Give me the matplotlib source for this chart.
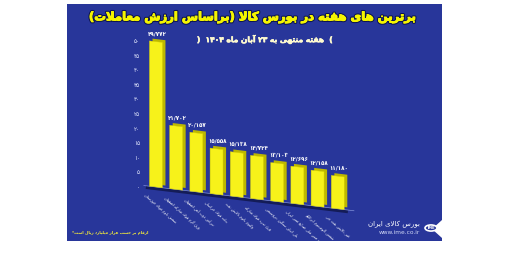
import matplotlib
matplotlib.use("Agg")
import matplotlib.pyplot as plt
import matplotlib.patheffects as pe
from matplotlib.transforms import Affine2D, ScaledTranslation
from matplotlib.patches import Rectangle, Circle, Polygon

# --- data (thousand billion rials) ---
categories = [
    "شمش بلوم فولاد خوزستان",
    "ورق گرم فولاد مبارکه اصفهان",
    "تیرآهن ذوب آهن اصفهان",
    "بیلت فولاد خراسان",
    "وکیوم باتوم پالایش نفت",
    "ورق سرد فولاد مبارکه",
    "پلی اتیلن سنگین پتروشیمی",
    "کاتد مس ملی صنایع مس ایران",
    "شمش آلومینیوم ایرالکو",
    "قیر پالایش نفت جی",
]
values = [49.772, 21.702, 20.157, 15.558, 15.138, 14.724, 13.103, 12.696, 12.158, 11.180]
yticks = [0, 5, 10, 15, 20, 25, 30, 35, 40, 45, 50]

title = "برترین های هفته در بورس کالا (براساس ارزش معاملات)"
subtitle = "هفته منتهی به ۲۳ آبان ماه ۱۴۰۴"
footnote = "ارقام بر حسب هزار میلیارد ریال است*"
brand = "بورس کالای ایران"

# --- minimal persian shaping (matplotlib has no RTL / joining) ---
FORMS = {
    "ا": (0xFE8D, 0xFE8E), "آ": (0xFE81, 0xFE82), "د": (0xFEA9, 0xFEAA),
    "ذ": (0xFEAB, 0xFEAC), "ر": (0xFEAD, 0xFEAE), "ز": (0xFEAF, 0xFEB0),
    "ژ": (0xFB8A, 0xFB8B), "و": (0xFEED, 0xFEEE),
    "ب": (0xFE8F, 0xFE90, 0xFE91, 0xFE92), "پ": (0xFB56, 0xFB57, 0xFB58, 0xFB59),
    "ت": (0xFE95, 0xFE96, 0xFE97, 0xFE98), "ث": (0xFE99, 0xFE9A, 0xFE9B, 0xFE9C),
    "ج": (0xFE9D, 0xFE9E, 0xFE9F, 0xFEA0), "چ": (0xFB7A, 0xFB7B, 0xFB7C, 0xFB7D),
    "ح": (0xFEA1, 0xFEA2, 0xFEA3, 0xFEA4), "خ": (0xFEA5, 0xFEA6, 0xFEA7, 0xFEA8),
    "س": (0xFEB1, 0xFEB2, 0xFEB3, 0xFEB4), "ش": (0xFEB5, 0xFEB6, 0xFEB7, 0xFEB8),
    "ص": (0xFEB9, 0xFEBA, 0xFEBB, 0xFEBC), "ض": (0xFEBD, 0xFEBE, 0xFEBF, 0xFEC0),
    "ط": (0xFEC1, 0xFEC2, 0xFEC3, 0xFEC4), "ظ": (0xFEC5, 0xFEC6, 0xFEC7, 0xFEC8),
    "ع": (0xFEC9, 0xFECA, 0xFECB, 0xFECC), "غ": (0xFECD, 0xFECE, 0xFECF, 0xFED0),
    "ف": (0xFED1, 0xFED2, 0xFED3, 0xFED4), "ق": (0xFED5, 0xFED6, 0xFED7, 0xFED8),
    "ک": (0xFB8E, 0xFB8F, 0xFB90, 0xFB91), "گ": (0xFB92, 0xFB93, 0xFB94, 0xFB95),
    "ل": (0xFEDD, 0xFEDE, 0xFEDF, 0xFEE0), "م": (0xFEE1, 0xFEE2, 0xFEE3, 0xFEE4),
    "ن": (0xFEE5, 0xFEE6, 0xFEE7, 0xFEE8), "ه": (0xFEE9, 0xFEEA, 0xFEEB, 0xFEEC),
    "ی": (0xFBFC, 0xFBFD, 0xFBFE, 0xFBFF),
}
LAM_ALEF = {"ا": (0xFEFB, 0xFEFC), "آ": (0xFEF5, 0xFEF6)}
LTR = set("۰۱۲۳۴۵۶۷۸۹0123456789/.")


def fa(s):
    out = []
    i = 0
    while i < len(s):
        ch = s[i]
        if ch not in FORMS:
            out.append(ch)
            i += 1
            continue
        prev = s[i - 1] if i > 0 else None
        nxt = s[i + 1] if i + 1 < len(s) else None
        jp = prev in FORMS and len(FORMS[prev]) == 4
        if ch == "ل" and nxt in LAM_ALEF:
            out.append(chr(LAM_ALEF[nxt][1 if jp else 0]))
            i += 2
            continue
        f = FORMS[ch]
        jn = len(f) == 4 and nxt in FORMS
        idx = 3 if (jp and jn) else 1 if jp else 2 if jn else 0
        out.append(chr(f[idx]))
        i += 1
    vis = out[::-1]
    # keep digit runs left to right, mirror brackets
    res, run = [], []
    for c in vis:
        if c in LTR:
            run.append(c)
        else:
            res.extend(run[::-1])
            run = []
            res.append({"(": ")", ")": "("}.get(c, c))
    res.extend(run[::-1])
    return "".join(res)


def fa_num(v, dec=3):
    s = f"{v:.{dec}f}".replace(".", "/") if dec else str(v)
    return s.translate(str.maketrans("0123456789", "۰۱۲۳۴۵۶۷۸۹"))


plt.rcParams["font.family"] = ["DejaVu Sans"]
W, H, DPI = 507, 258, 100
fig = plt.figure(figsize=(W / DPI, H / DPI), dpi=DPI)
fig.patch.set_facecolor("white")

# blue panel
fig.patches.append(Rectangle((67 / W, 1 - 241 / H), (442 - 67) / W, (241 - 4) / H,
                             transform=fig.transFigure, facecolor="#28369a", edgecolor="none", zorder=-5))
fig.patches.append(Polygon([(442 / W, 1 - 220 / H), (432 / W, 1 - 229 / H), (442 / W, 1 - 238 / H)],
                           closed=True, transform=fig.transFigure, facecolor="white", edgecolor="none", zorder=-4))

ax = fig.add_axes([143 / W, 1 - 187 / H, (360 - 143) / W, (187 - 41) / H])
ax.set_zorder(2)
ax.set_facecolor("none")
ax.set_xlim(-0.64, 10.1)
ax.set_ylim(0, 50)
for s in ax.spines.values():
    s.set_visible(False)
ax.set_xticks([])
ax.set_yticks(yticks)
ax.set_yticklabels([fa_num(t, 0) for t in yticks], fontsize=4.2, color="#dfe4fb")
ax.tick_params(axis="y", length=0, pad=2)

# perspective: baseline drops to the right
k, x0 = 0.12, 156
skew = Affine2D().from_values(1, -k, 0, 1, 0, k * x0)
tr = ax.transData + skew

xs = list(range(len(values)))
ax.plot([-0.5, 9.5], [0, 0], color="#141c58", lw=2.2, transform=tr + ScaledTranslation(0, -1.2 / 72, fig.dpi_scale_trans),
        solid_capstyle="butt", clip_on=False, zorder=1)
ax.plot([-0.6, 9.8], [0, 0], color="#8090d8", lw=0.5, transform=tr, clip_on=False, zorder=1)
ax.bar(xs, values, width=0.64, color="#bdb800", transform=tr + ScaledTranslation(2.2 / 72, 1.6 / 72, fig.dpi_scale_trans),
       clip_on=False, zorder=2)
ax.bar(xs, values, width=0.64, color="#f7f21a", edgecolor="#d8d200", lw=0.3, transform=tr, clip_on=False, zorder=3)

for x, v, c in zip(xs, values, categories):
    ax.annotate(fa_num(v), (x, v), xycoords=tr, xytext=(1, 4), textcoords="offset points",
                ha="center", va="bottom", fontsize=4.0, color="white", fontweight="bold", zorder=4,
                annotation_clip=False)
    ax.annotate(fa(c), (x - 0.5, 0), xycoords=tr, xytext=(0, -5), textcoords="offset points",
                ha="left", va="top", rotation=-42, rotation_mode="anchor", fontsize=2.7,
                color="white", zorder=4, annotation_clip=False)

stroke = [pe.withStroke(linewidth=2.2, foreground="#0c1450"),
          pe.withStroke(linewidth=0.7, foreground="#f5f500")]
fig.text(252 / W, 1 - 17 / H, fa(title), ha="center", va="center", fontsize=8.4, fontweight="bold",
         color="#f5f500", path_effects=stroke)
fig.text(265 / W, 1 - 40 / H, ")  " + fa(subtitle) + "  (", ha="center", va="center", fontsize=5.4,
         fontweight="bold", color="#fffbd0",
         path_effects=[pe.withStroke(linewidth=0.4, foreground="#fffbd0")])
fig.text(148 / W, 1 - 232 / H, fa(footnote), ha="right", va="center", fontsize=2.9, fontweight="bold",
         color="#f3ea3a")
fig.text(420 / W, 1 - 224 / H, fa(brand), ha="right", va="center", fontsize=5, color="white")
fig.text(420 / W, 1 - 233 / H, "www.ime.co.ir", ha="right", va="center", fontsize=4.2, color="#cfd6f5")
fig.patches.append(Circle((431 / W, 1 - 228 / H), 6 / W, transform=fig.transFigure, facecolor="#28369a",
                          edgecolor="white", lw=1.2, zorder=3))
fig.text(431 / W, 1 - 228 / H, "IME", ha="center", va="center", fontsize=2.6, fontweight="bold", color="white")

fig.savefig("out.png", dpi=DPI, facecolor="white")
